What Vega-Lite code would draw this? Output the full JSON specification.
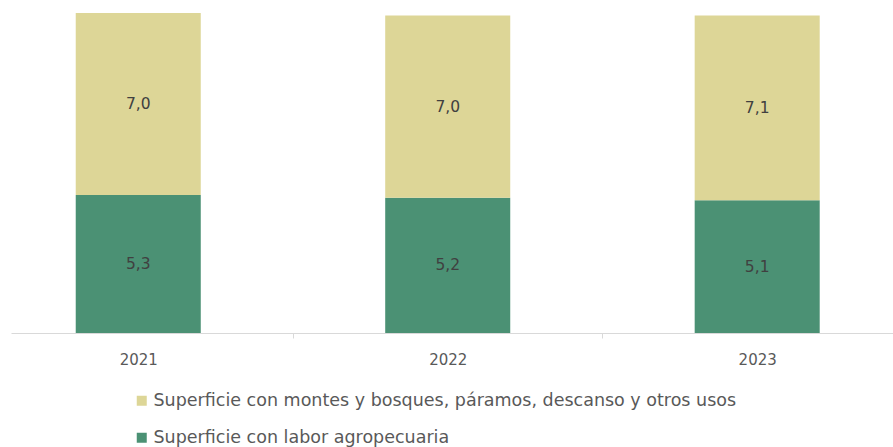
{
  "$schema": "https://vega.github.io/schema/vega-lite/v6.json",
  "width": 882,
  "height": 333,
  "autosize": {"type": "none"},
  "padding": {"left": 11, "top": 0, "right": 0, "bottom": 114},
  "background": "white",
  "config": {
    "view": {"stroke": null},
    "font": "DejaVu Sans",
    "locale": {"number": {"decimal": ",", "thousands": ".", "grouping": [3], "currency": ["", ""]}}
  },
  "data": {
    "values": [
      {"anio": "2021", "tipo": "Superficie con labor agropecuaria", "orden": 1, "valor": 5.3},
      {"anio": "2021", "tipo": "Superficie con montes y bosques, páramos, descanso y otros usos", "orden": 2, "valor": 7.0},
      {"anio": "2022", "tipo": "Superficie con labor agropecuaria", "orden": 1, "valor": 5.2},
      {"anio": "2022", "tipo": "Superficie con montes y bosques, páramos, descanso y otros usos", "orden": 2, "valor": 7.0},
      {"anio": "2023", "tipo": "Superficie con labor agropecuaria", "orden": 1, "valor": 5.1},
      {"anio": "2023", "tipo": "Superficie con montes y bosques, páramos, descanso y otros usos", "orden": 2, "valor": 7.1}
    ]
  },
  "encoding": {
    "x": {
      "field": "anio",
      "type": "nominal",
      "scale": {"paddingInner": 0.596, "paddingOuter": 0.223, "align": 0.469},
      "axis": {
        "title": null,
        "labelAngle": 0,
        "labelFontSize": 15,
        "labelColor": "#595959",
        "labelPadding": 14,
        "domainColor": "#d9d9d9",
        "domainWidth": 1,
        "tickColor": "#d9d9d9",
        "tickSize": 5,
        "tickOffset": 154.75,
        "labelOffset": -154.75
      }
    },
    "y": {
      "field": "valor",
      "type": "quantitative",
      "stack": "zero",
      "scale": {"domain": [0, 12.8], "nice": false},
      "axis": null
    },
    "order": {"field": "orden", "type": "quantitative"}
  },
  "layer": [
    {
      "mark": {"type": "bar"},
      "encoding": {
        "color": {
          "field": "tipo",
          "type": "nominal",
          "scale": {
            "domain": ["Superficie con montes y bosques, páramos, descanso y otros usos", "Superficie con labor agropecuaria"],
            "range": ["#DDD697", "#4B9174"]
          },
          "legend": {
            "title": null,
            "orient": "none",
            "legendX": 122,
            "legendY": 392,
            "direction": "vertical",
            "padding": 0,
            "symbolType": "square",
            "symbolSize": 100,
            "symbolStrokeWidth": 0,
            "labelFontSize": 17.5,
            "labelColor": "#595959",
            "labelLimit": 0,
            "labelOffset": 3,
            "rowPadding": 18
          }
        }
      }
    },
    {
      "mark": {"type": "text", "fontSize": 15.5, "color": "#404040"},
      "encoding": {
        "y": {"field": "valor", "type": "quantitative", "stack": "zero", "bandPosition": 0.5},
        "text": {"field": "valor", "type": "quantitative", "format": ".1f"}
      }
    }
  ]
}
